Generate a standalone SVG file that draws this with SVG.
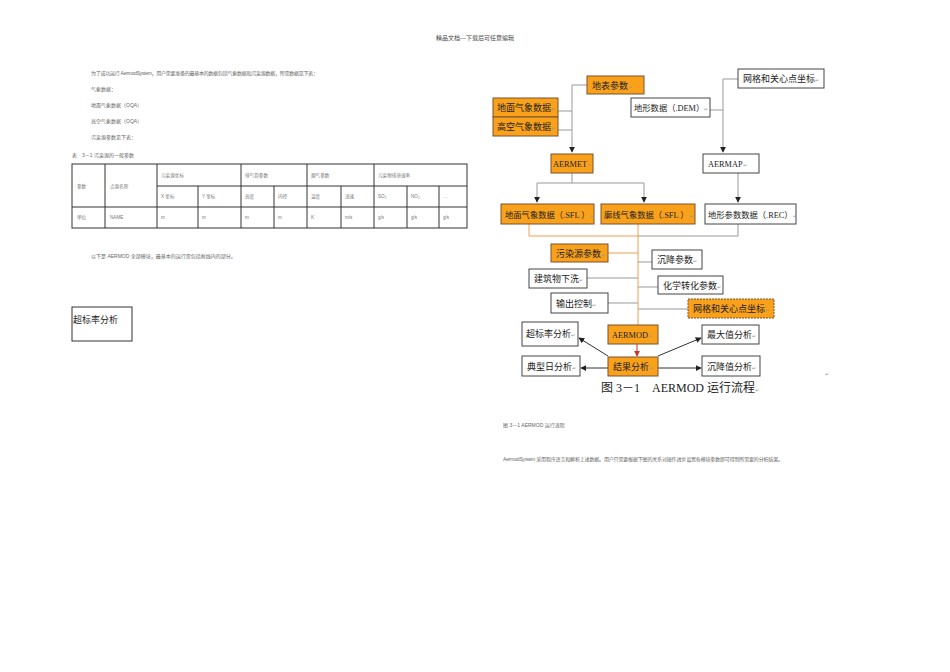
<svg xmlns="http://www.w3.org/2000/svg" width="950" height="672" viewBox="0 0 950 672">
<style>
.sm{font-family:"Liberation Sans","Noto Sans CJK SC",sans-serif;font-size:5px;fill:#666}
.tb{font-family:"Liberation Sans","Noto Sans CJK SC",sans-serif;font-size:4.6px;fill:#777}
.tl{stroke:#333;stroke-width:1;fill:none}
.fl{font-family:"Liberation Serif","Noto Sans CJK SC",serif;font-size:9px;fill:#222}
.fs{font-family:"Liberation Serif","Noto Sans CJK SC",serif;font-size:8.3px;fill:#222}
.or{fill:#F9A11B;stroke:#7a5230;stroke-width:1}
.wh{fill:#fff;stroke:#444;stroke-width:1}
.gl{stroke:#999;stroke-width:1;fill:none}
.ol{stroke:#F0A050;stroke-width:1;fill:none}
.ar{stroke:#333;stroke-width:1;fill:none}
.pm{font-size:5px;fill:#999}
</style>
<defs>
<marker id="ah" viewBox="0 0 8 8" refX="7" refY="4" markerWidth="6" markerHeight="6" orient="auto" markerUnits="userSpaceOnUse"><path d="M0,0 L8,4 L0,8 z" fill="#222"/></marker>
<marker id="ahr" viewBox="0 0 8 8" refX="7" refY="4" markerWidth="6" markerHeight="6" orient="auto" markerUnits="userSpaceOnUse"><path d="M0,0 L8,4 L0,8 z" fill="#d03020"/></marker>
</defs>
<rect width="950" height="672" fill="#fff"/>

<text x="475" y="40" text-anchor="middle" style="font-family:'Liberation Serif','Noto Sans CJK SC',serif;font-size:6px;fill:#444">精品文档---下载后可任意编辑</text>

<g id="intro">
<text class="sm" x="91" y="75" textLength="227">为了成功运行 AermodSystem，用户需要准备的最基本的数据包括气象数据和污染源数据，所需数据见下表：</text>
<text class="sm" x="91" y="91">气象数据：</text>
<text class="sm" x="91" y="107">地面气象数据（OQA）</text>
<text class="sm" x="91" y="123">高空气象数据（OQA）</text>
<text class="sm" x="91" y="139">污染源参数见下表：</text>
<text class="sm" x="72" y="157">表　3－1 污染源的一般参数</text>
</g>

<g id="table">
<rect class="tl" x="72" y="164" width="395" height="64"/>
<line class="tl" x1="157" y1="186" x2="467" y2="186"/>
<line class="tl" x1="72" y1="207" x2="467" y2="207"/>
<line class="tl" x1="105" y1="164" x2="105" y2="228"/>
<line class="tl" x1="157" y1="164" x2="157" y2="228"/>
<line class="tl" x1="198" y1="186" x2="198" y2="228"/>
<line class="tl" x1="241" y1="164" x2="241" y2="228"/>
<line class="tl" x1="274" y1="186" x2="274" y2="228"/>
<line class="tl" x1="307" y1="164" x2="307" y2="228"/>
<line class="tl" x1="341" y1="186" x2="341" y2="228"/>
<line class="tl" x1="374" y1="164" x2="374" y2="228"/>
<line class="tl" x1="407" y1="186" x2="407" y2="228"/>
<line class="tl" x1="439" y1="186" x2="439" y2="228"/>
<text class="tb" x="77" y="188">参数</text>
<text class="tb" x="110" y="188">点源名称</text>
<text class="tb" x="161" y="177">污染源坐标</text>
<text class="tb" x="245" y="177">排气筒参数</text>
<text class="tb" x="311" y="177">烟气参数</text>
<text class="tb" x="378" y="177">污染物排放速率</text>
<text class="tb" x="161" y="198">X 坐标</text>
<text class="tb" x="202" y="198">Y 坐标</text>
<text class="tb" x="245" y="198">高度</text>
<text class="tb" x="278" y="198">内径</text>
<text class="tb" x="311" y="198">温度</text>
<text class="tb" x="345" y="198">流速</text>
<text class="tb" x="378" y="198">SO<tspan font-size="3" dy="1">2</tspan></text>
<text class="tb" x="411" y="198">NO<tspan font-size="3" dy="1">2</tspan></text>
<text class="tb" x="443" y="198">…</text>
<text class="tb" x="77" y="219">单位</text>
<text class="tb" x="110" y="219">NAME</text>
<text class="tb" x="161" y="219">m</text>
<text class="tb" x="202" y="219">m</text>
<text class="tb" x="245" y="219">m</text>
<text class="tb" x="278" y="219">m</text>
<text class="tb" x="311" y="219">K</text>
<text class="tb" x="345" y="219">m/s</text>
<text class="tb" x="378" y="219">g/s</text>
<text class="tb" x="411" y="219">g/s</text>
<text class="tb" x="443" y="219">g/s</text>
</g>

<text class="sm" x="91" y="258">以下是 AERMOD 全部模块，最基本的运行需包括框线内的部分。</text>

<g id="legend-box">
<rect x="72" y="307" width="60" height="34" fill="#fff" stroke="#333" stroke-width="1"/>
<text x="73" y="323" style="font-family:'Noto Sans CJK SC',sans-serif;font-size:9px;fill:#222">超标率分析</text>
</g>

<g id="connectors">
<polyline class="gl" points="587,85 572,85 572,152" marker-end="url(#ah)"/>
<line class="gl" x1="558" y1="111" x2="572" y2="111"/>
<line class="gl" x1="558" y1="130" x2="572" y2="130"/>
<polyline class="gl" points="738,79 723,79 723,152" marker-end="url(#ah)"/>
<line class="gl" x1="710" y1="110" x2="723" y2="110"/>
<line class="gl" x1="572" y1="173" x2="572" y2="183"/>
<line class="gl" x1="537" y1="183" x2="644" y2="183"/>
<line class="gl" x1="537" y1="183" x2="537" y2="202" marker-end="url(#ah)"/>
<line class="gl" x1="644" y1="183" x2="644" y2="202" marker-end="url(#ah)"/>
<line class="gl" x1="738" y1="173" x2="738" y2="202" marker-end="url(#ah)"/>
<polyline class="ol" points="529,224 529,236 638,236"/>
<polyline class="gl" points="738,224 738,236 638,236"/>
<line class="ol" x1="638" y1="224" x2="638" y2="325"/>
<line class="ol" x1="608" y1="253" x2="638" y2="253"/>
<line class="gl" x1="587" y1="278" x2="638" y2="278"/>
<line class="gl" x1="608" y1="303" x2="638" y2="303"/>
<line class="gl" x1="652" y1="262" x2="638" y2="262"/>
<line class="gl" x1="658" y1="287" x2="638" y2="287"/>
<line class="gl" x1="688" y1="309" x2="638" y2="309"/>
<line stroke="#d03020" stroke-width="1" x1="637" y1="344" x2="637" y2="356" marker-end="url(#ahr)"/>
<line class="ar" x1="608" y1="356" x2="579" y2="338" marker-end="url(#ah)"/>
<line class="ar" x1="608" y1="368" x2="581" y2="368" marker-end="url(#ah)"/>
<line class="ar" x1="658" y1="356" x2="701" y2="338" marker-end="url(#ah)"/>
<line class="ar" x1="658" y1="368" x2="701" y2="368" marker-end="url(#ah)"/>
</g>

<g id="n-dibiao"><rect class="or" x="587" y="76" width="57" height="18"/><text class="fl" x="592" y="88.5">地表参数<tspan class="pm">↵</tspan></text></g>
<g id="n-dimian"><rect class="or" x="493" y="98" width="65" height="19"/><text class="fl" x="497" y="111">地面气象数据<tspan class="pm">↵</tspan></text></g>
<g id="n-gaokong"><rect class="or" x="493" y="117" width="65" height="19"/><text class="fl" x="497" y="130">高空气象数据<tspan class="pm">↵</tspan></text></g>
<g id="n-wangge1"><rect class="wh" x="738" y="69" width="86" height="19"/><text class="fl" x="743" y="82">网格和关心点坐标<tspan class="pm">↵</tspan></text></g>
<g id="n-dem"><rect class="wh" x="631" y="98" width="79" height="19"/><text class="fs" x="634" y="111">地形数据（.DEM）<tspan class="pm">↵</tspan></text></g>
<g id="n-aermet"><rect class="or" x="551" y="154" width="42" height="19"/><text class="fs" x="553" y="167">AERMET<tspan class="pm">↵</tspan></text></g>
<g id="n-aermap"><rect class="wh" x="703" y="154" width="56" height="19"/><text class="fs" x="708" y="167">AERMAP<tspan class="pm">↵</tspan></text></g>
<g id="n-sfl"><rect class="or" x="501" y="204" width="93" height="20"/><text class="fs" x="505" y="217.5">地面气象数据（.SFL ）<tspan class="pm">↵</tspan></text></g>
<g id="n-pfl"><rect class="or" x="601" y="204" width="94" height="20"/><text class="fs" x="604" y="217.5">廓线气象数据（.SFL ）<tspan class="pm">↵</tspan></text></g>
<g id="n-rec"><rect class="wh" x="705" y="204" width="91" height="20"/><text class="fs" x="708" y="217.5">地形参数数据（.REC）<tspan class="pm">↵</tspan></text></g>
<g id="n-source"><rect class="or" x="551" y="244" width="57" height="18"/><text class="fl" x="556" y="256.5">污染源参数<tspan class="pm">↵</tspan></text></g>
<g id="n-chenjiang"><rect class="wh" x="652" y="250" width="50" height="19"/><text class="fl" x="657" y="263">沉降参数<tspan class="pm">↵</tspan></text></g>
<g id="n-building"><rect class="wh" x="529" y="269" width="58" height="19"/><text class="fl" x="534" y="282">建筑物下洗<tspan class="pm">↵</tspan></text></g>
<g id="n-chem"><rect class="wh" x="658" y="276" width="65" height="18"/><text class="fl" x="663" y="288.5">化学转化参数<tspan class="pm">↵</tspan></text></g>
<g id="n-output"><rect class="wh" x="551" y="293" width="57" height="20"/><text class="fl" x="556" y="306.5">输出控制<tspan class="pm">↵</tspan></text></g>
<g id="n-wangge2"><rect x="688" y="299" width="86" height="19" fill="#F9A11B" stroke="#7a5230" stroke-width="1" stroke-dasharray="2,1"/><text class="fl" x="693" y="312">网格和关心点坐标<tspan class="pm">↵</tspan></text></g>
<g id="n-aermod"><rect class="or" x="608" y="325" width="50" height="19"/><text class="fs" x="612" y="338">AERMOD<tspan class="pm">↵</tspan></text></g>
<g id="n-result"><rect class="or" x="608" y="357" width="50" height="19"/><text class="fl" x="613" y="370">结果分析<tspan class="pm">↵</tspan></text></g>
<g id="n-chaobiao"><rect class="wh" x="522" y="322" width="56" height="24"/><text class="fl" x="526" y="337">超标率分析<tspan class="pm">↵</tspan></text></g>
<g id="n-dianxing"><rect class="wh" x="522" y="356" width="58" height="20"/><text class="fl" x="527" y="369.5">典型日分析<tspan class="pm">↵</tspan></text></g>
<g id="n-max"><rect class="wh" x="702" y="325" width="57" height="19"/><text class="fl" x="707" y="338">最大值分析<tspan class="pm">↵</tspan></text></g>
<g id="n-chenjiangzhi"><rect class="wh" x="702" y="356" width="58" height="20"/><text class="fl" x="707" y="369.5">沉降值分析<tspan class="pm">↵</tspan></text></g>

<text x="601" y="392" style="font-family:'Liberation Serif','Noto Sans CJK SC',serif;font-size:12px;fill:#222">图 3－1　AERMOD 运行流程<tspan class="pm">↵</tspan></text>
<text x="825" y="376" class="pm" style="font-family:'Liberation Sans',sans-serif">↵</text>

<text class="sm" x="503" y="427">图 3－1 AERMOD 运行流程</text>
<text class="sm" x="503" y="461" textLength="280">AermodSystem 采用程序语言和解析上述数据。用户只需要根据下图的关系对操作进步设置各模块参数即可得到所需要的分析结果。</text>
</svg>
